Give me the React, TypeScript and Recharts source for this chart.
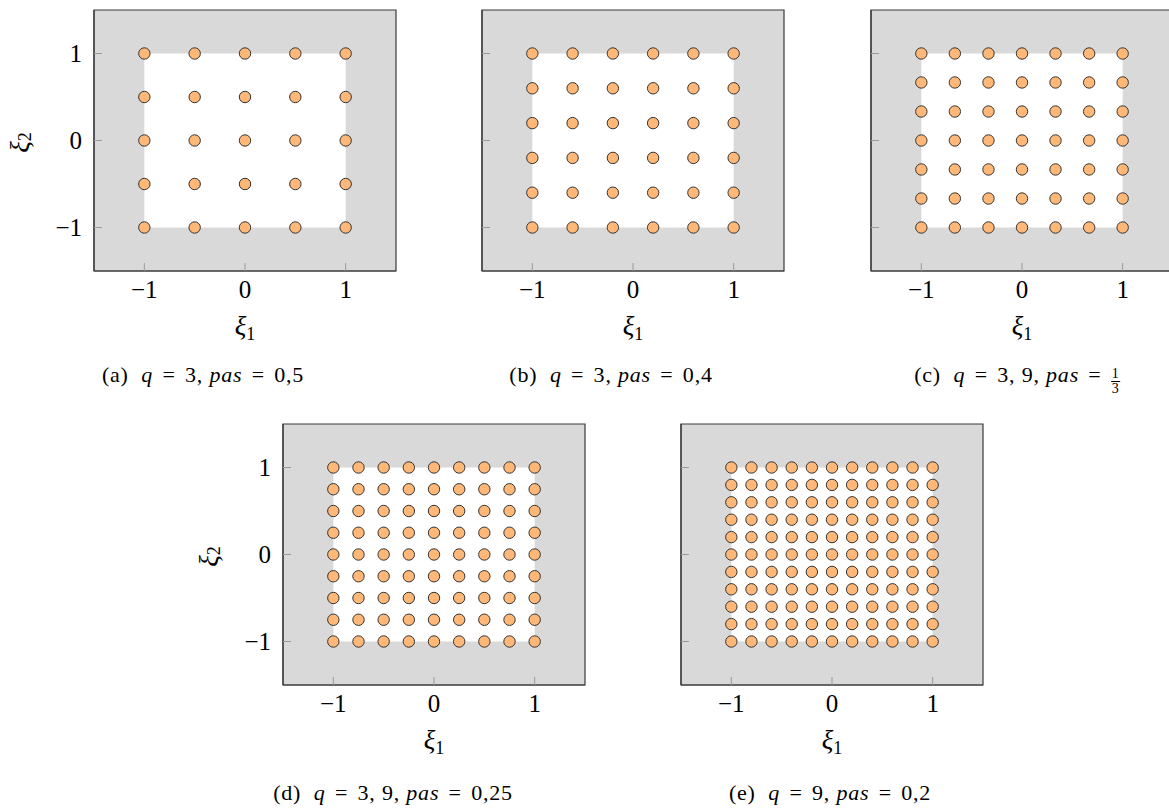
import { ScatterChart, Scatter, XAxis, YAxis, ReferenceArea } from 'recharts';

// tick positions shared by every panel
const axisTicks = [-1, 0, 1];

// node coordinates of each grid (same list on both axes)
const nodesA = [-1, -0.5, 0, 0.5, 1];
const nodesB = [-1, -0.6, -0.2, 0.2, 0.6, 1];
const nodesC = [-1, -0.667, -0.333, 0, 0.333, 0.667, 1];
const nodesD = [-1, -0.75, -0.5, -0.25, 0, 0.25, 0.5, 0.75, 1];
const nodesE = [-1, -0.8, -0.6, -0.4, -0.2, 0, 0.2, 0.4, 0.6, 0.8, 1];

// caption pieces
const captionLetters = ['a', 'b', 'c', 'd', 'e'];
const captionQ = ['3', '3', '3, 9', '3, 9', '9'];
const captionPas = ['0,5', '0,4', '1/3', '0,25', '0,2'];

const FONT = "'Liberation Serif', 'DejaVu Serif', serif";
const PLOT_W = 302;
const PLOT_H = 261;
const Y_AXIS_W = 90;
const X_AXIS_H = 80;

// page position of each plot area (top-left corner) and of its caption
const layout = [
  { nodes: nodesA, left: 94, top: 10, yLabels: true, capX: 203, capY: 364 },
  { nodes: nodesB, left: 482, top: 10, yLabels: false, capX: 611, capY: 364 },
  { nodes: nodesC, left: 871, top: 10, yLabels: false, capX: 1017, capY: 364 },
  { nodes: nodesD, left: 283, top: 424, yLabels: true, capX: 393, capY: 782 },
  { nodes: nodesE, left: 681, top: 424, yLabels: false, capX: 830, capY: 782 },
];

const fmt = (v: number) => (v < 0 ? `\u2212${Math.abs(v)}` : `${v}`);

const renderDot = (p: any) => (
  <circle cx={p.cx} cy={p.cy} r={5.7} fill="#ffb877" stroke="#333333" strokeWidth={1} />
);

const XiLabel = ({ sub }: { sub: string }) => (
  <>
    <tspan fontStyle="italic">{'\u03be'}</tspan>
    <tspan fontSize={18} dy={5} fontStyle="normal">{sub}</tspan>
  </>
);

function GridPanel({ nodes, left, top, yLabels }: any) {
  const points = nodes.flatMap((y: number) => nodes.map((x: number) => ({ x, y })));
  return (
    <div style={{ position: 'absolute', left: left - Y_AXIS_W, top: top - 10 }}>
      <ScatterChart
        width={Y_AXIS_W + PLOT_W + 10}
        height={10 + PLOT_H + X_AXIS_H}
        margin={{ top: 10, right: 10, left: 0, bottom: 0 }}
      >
        <ReferenceArea x1={-1.5} x2={1.5} y1={-1.5} y2={1.5} fill="#d9d9d9" fillOpacity={1} stroke="#3a3a3a" strokeWidth={1.2} />
        <ReferenceArea x1={-1} x2={1} y1={-1} y2={1} fill="#ffffff" fillOpacity={1} stroke="none" />
        <XAxis
          type="number"
          dataKey="x"
          domain={[-1.5, 1.5]}
          ticks={axisTicks}
          allowDataOverflow
          height={X_AXIS_H}
          tickSize={-8}
          tickMargin={17}
          tickFormatter={fmt}
          axisLine={{ stroke: '#3a3a3a', strokeWidth: 1.2 }}
          tickLine={{ stroke: '#999999' }}
          tick={{ fill: '#000', fontSize: 25, fontFamily: FONT }}
          label={{
            position: 'insideTop',
            content: ({ viewBox }: any) => (
              <text x={viewBox.x + viewBox.width / 2} y={viewBox.y + 64} textAnchor="middle" fontSize={27} fontFamily={FONT} fill="#000">
                <XiLabel sub="1" />
              </text>
            ),
          }}
        />
        <YAxis
          type="number"
          dataKey="y"
          domain={[-1.5, 1.5]}
          ticks={axisTicks}
          allowDataOverflow
          width={Y_AXIS_W}
          tickSize={-8}
          tickMargin={20}
          tickFormatter={yLabels ? fmt : () => ''}
          axisLine={{ stroke: '#3a3a3a', strokeWidth: 1.2 }}
          tickLine={{ stroke: '#999999' }}
          tick={{ fill: '#000', fontSize: 25, fontFamily: FONT }}
          label={
            yLabels
              ? {
                  position: 'insideLeft',
                  content: ({ viewBox }: any) => {
                    const cx = viewBox.x + 16;
                    const cy = viewBox.y + viewBox.height / 2 + 2;
                    return (
                      <text x={cx} y={cy} transform={`rotate(-90 ${cx} ${cy})`} textAnchor="middle" dominantBaseline="central" fontSize={27} fontFamily={FONT} fill="#000">
                        <XiLabel sub="2" />
                      </text>
                    );
                  },
                }
              : undefined
          }
        />
        <Scatter data={points} shape={renderDot} isAnimationActive={false} />
      </ScatterChart>
    </div>
  );
}

function Caption({ i, x, y }: { i: number; x: number; y: number }) {
  const pas = captionPas[i];
  const frac = pas.includes('/') ? pas.split('/') : null;
  const eq = <span style={{ margin: '0 3px' }}>=</span>;
  return (
    <div
      style={{
        position: 'absolute',
        left: x,
        top: y,
        transform: 'translateX(-50%)',
        whiteSpace: 'nowrap',
        fontFamily: FONT,
        fontSize: 22,
        lineHeight: '22px',
        letterSpacing: '0.8px',
        color: '#000',
      }}
    >
      ({captionLetters[i]})&nbsp;&nbsp;<i>q</i>&nbsp;{eq}&nbsp;{captionQ[i]},&nbsp;<i>pas</i>&nbsp;{eq}&nbsp;
      {frac ? (
        <span style={{ display: 'inline-flex', flexDirection: 'column', alignItems: 'center', verticalAlign: '0.32em', fontSize: 14, lineHeight: '14px', letterSpacing: 0 }}>
          <span style={{ borderBottom: '0.8px solid #000', padding: '0 1px' }}>{frac[0]}</span>
          <span>{frac[1]}</span>
        </span>
      ) : (
        pas
      )}
    </div>
  );
}

export default function App() {
  return (
    <div style={{ position: 'absolute', left: 0, top: 0, width: 1169, height: 811, overflow: 'hidden', background: '#fff' }}>
      {layout.map((p, i) => (
        <GridPanel key={i} nodes={p.nodes} left={p.left} top={p.top} yLabels={p.yLabels} />
      ))}
      {layout.map((p, i) => (
        <Caption key={i} i={i} x={p.capX} y={p.capY} />
      ))}
    </div>
  );
}
